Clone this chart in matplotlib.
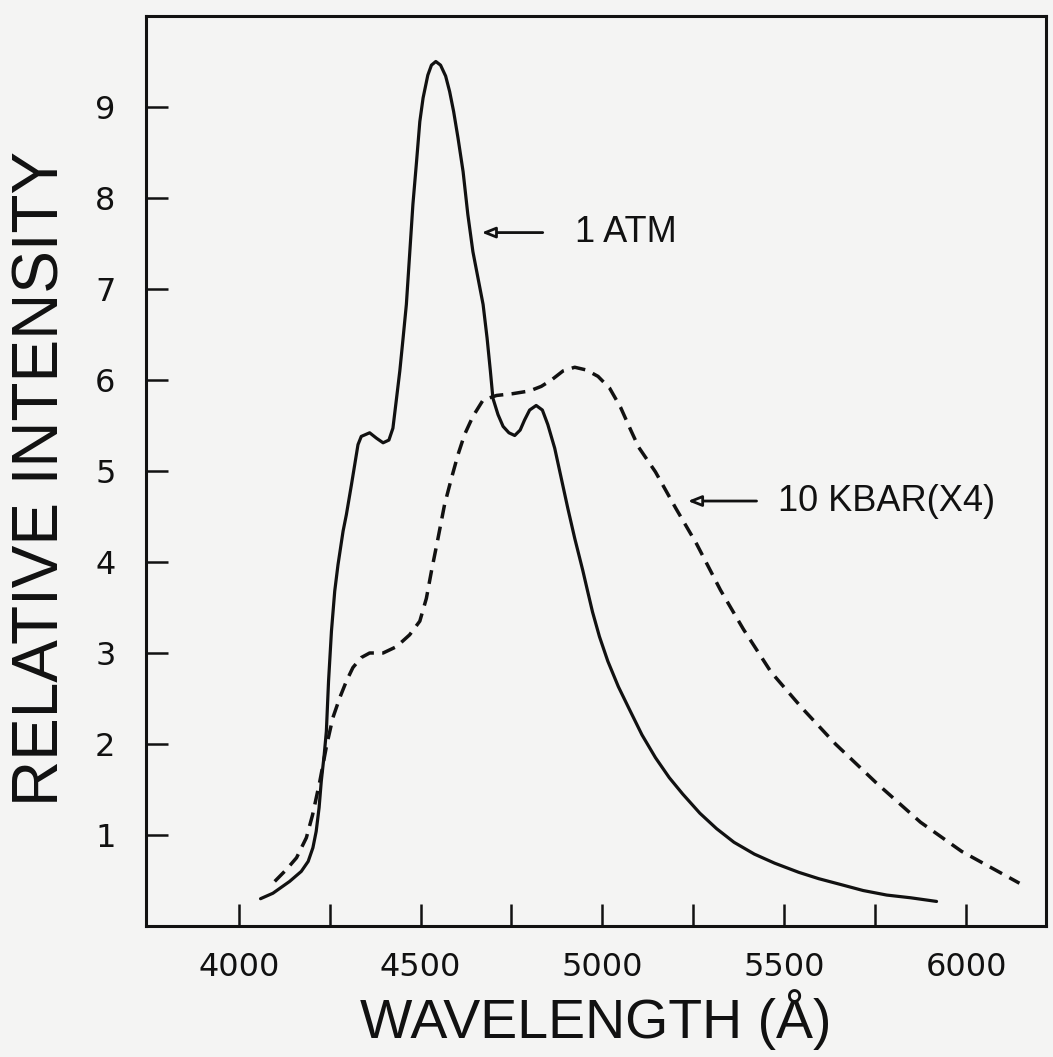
import matplotlib
matplotlib.use("Agg")
import matplotlib.pyplot as plt
from matplotlib.ticker import FixedLocator

# valores: longitud de onda (A) e intensidad relativa
wl_1atm = [4060, 4094, 4140, 4172, 4191, 4204, 4213, 4221, 4227, 4235,
           4241, 4247, 4255, 4264, 4273, 4287, 4296, 4310, 4319, 4328,
           4337, 4360, 4379, 4397, 4413, 4424, 4434, 4443, 4452, 4461,
           4470, 4479, 4489, 4498, 4507, 4520, 4530, 4542, 4555, 4569,
           4580, 4591, 4603, 4617, 4630, 4644, 4658, 4672, 4683, 4692,
           4699, 4713, 4727, 4743, 4759, 4774, 4786, 4800, 4818, 4835,
           4850, 4869, 4887, 4905, 4924, 4946, 4960, 4973, 4992, 5015,
           5044, 5072, 5109, 5146, 5184, 5221, 5268, 5314, 5362, 5418,
           5474, 5540, 5595, 5661, 5717, 5782, 5848, 5919]
int_1atm = [0.30, 0.36, 0.49, 0.60, 0.71, 0.86, 1.04, 1.30, 1.59, 1.88,
            2.14, 2.69, 3.24, 3.68, 3.97, 4.34, 4.52, 4.85, 5.07, 5.29,
            5.38, 5.42, 5.36, 5.31, 5.34, 5.47, 5.80, 6.10, 6.46, 6.83,
            7.38, 7.93, 8.40, 8.84, 9.10, 9.35, 9.46, 9.50, 9.46, 9.34,
            9.17, 8.95, 8.66, 8.29, 7.82, 7.41, 7.12, 6.83, 6.46, 6.10,
            5.80, 5.62, 5.49, 5.42, 5.39, 5.45, 5.56, 5.67, 5.72, 5.67,
            5.51, 5.25, 4.92, 4.59, 4.26, 3.91, 3.67, 3.45, 3.18, 2.91,
            2.63, 2.40, 2.10, 1.85, 1.63, 1.45, 1.24, 1.07, 0.92, 0.79,
            0.69, 0.59, 0.52, 0.45, 0.39, 0.34, 0.31, 0.27]

wl_10kbar = [4099, 4131, 4159, 4186, 4203, 4223, 4242, 4259, 4278, 4296,
             4314, 4337, 4360, 4397, 4434, 4470, 4498, 4516, 4530, 4548,
             4566, 4585, 4603, 4621, 4644, 4672, 4709, 4754, 4800, 4832,
             4860, 4892, 4924, 4956, 4988, 5020, 5050, 5078, 5100, 5146,
             5202, 5259, 5325, 5388, 5464, 5548, 5641, 5754, 5875, 5988,
             6147]
int_10kbar = [0.49, 0.62, 0.75, 0.97, 1.22, 1.59, 1.99, 2.29, 2.51, 2.69,
              2.84, 2.95, 3.00, 3.00, 3.07, 3.20, 3.35, 3.60, 3.90, 4.26,
              4.63, 4.92, 5.18, 5.40, 5.60, 5.78, 5.83, 5.85, 5.88, 5.93,
              6.00, 6.10, 6.14, 6.11, 6.04, 5.91, 5.70, 5.45, 5.26, 4.99,
              4.59, 4.20, 3.69, 3.26, 2.79, 2.40, 2.00, 1.57, 1.14, 0.82,
              0.47]

x_ticks = [4000, 4500, 5000, 5500, 6000]
x_minor = [4250, 4750, 5250, 5750]
y_ticks = [1, 2, 3, 4, 5, 6, 7, 8, 9]

bg = "#f4f4f3"
ink = "#111111"

fig = plt.figure(figsize=(10.53, 10.57), dpi=100, facecolor=bg)
ax = fig.add_axes([146 / 1053, 1 - 926 / 1057, 900 / 1053, 910 / 1057])
ax.set_facecolor(bg)

# curvas
ax.plot(wl_1atm, int_1atm, color=ink, linewidth=2.3,
        solid_capstyle="round", solid_joinstyle="round")
ax.plot(wl_10kbar, int_10kbar, color=ink, linewidth=2.5, dashes=(4, 2.4))

ax.set_xlim(3745, 6220)
ax.set_ylim(0, 10)

for side in ["left", "bottom", "top", "right"]:
    ax.spines[side].set_linewidth(2.2)
    ax.spines[side].set_color(ink)

# ticks hacia dentro, solo abajo e izquierda
ax.set_xticks(x_ticks)
ax.xaxis.set_minor_locator(FixedLocator(x_minor))
ax.set_yticks(y_ticks)
ax.tick_params(axis="both", which="both", direction="in", length=16, width=1.8,
               color=ink, top=False, right=False)
ax.tick_params(axis="x", which="major", pad=19)
ax.tick_params(axis="y", which="major", pad=22)
for lab in ax.get_xticklabels() + ax.get_yticklabels():
    lab.set_fontsize(23)
    lab.set_color(ink)

# etiquetas de las curvas con flecha
arrow_kw = dict(arrowstyle="-|>,head_length=0.8,head_width=0.32",
                color=ink, lw=2.0, fc=bg, shrinkA=0, shrinkB=0)
ax.annotate("", xy=(4668, 7.62), xytext=(4836, 7.62), arrowprops=arrow_kw)
ax.text(4924, 7.62, "1 ATM", fontsize=26, family="Liberation Sans",
        color=ink, va="center", ha="left")
ax.annotate("", xy=(5235, 4.67), xytext=(5424, 4.67), arrowprops=arrow_kw)
ax.text(5482, 4.67, "10 KBAR(X4)", fontsize=26, family="Liberation Sans",
        color=ink, va="center", ha="left")

# titulos de ejes
fig.text(596 / 1053, 1 - 1020 / 1057, "WAVELENGTH (Å)", fontsize=40,
         family="Liberation Sans", color=ink, ha="center", va="center")
fig.text(42 / 1053, 1 - 478 / 1057, "RELATIVE INTENSITY", fontsize=46,
         family="Liberation Sans", color=ink, ha="center", va="center",
         rotation=90)

fig.savefig("out.png", dpi=100, facecolor=bg)
